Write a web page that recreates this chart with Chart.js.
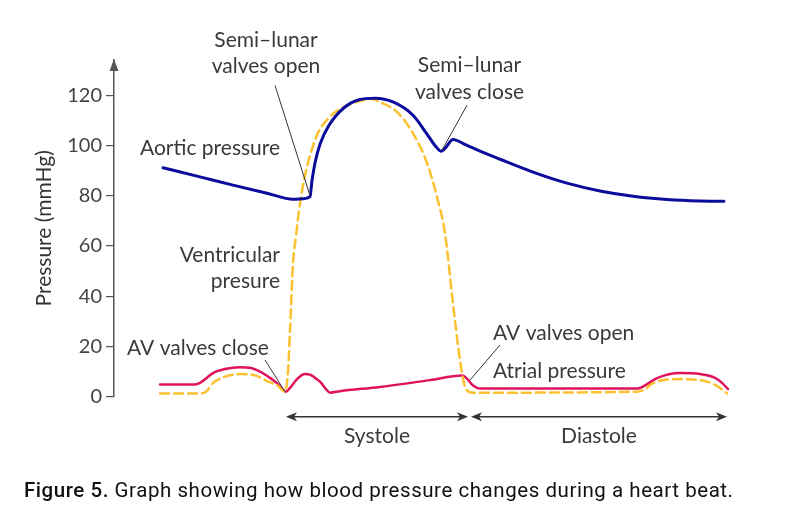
<!DOCTYPE html>
<html>
<head>
<meta charset="utf-8">
<script src="https://cdn.jsdelivr.net/npm/chart.js@4"></script>
<style>
  body { margin: 0; background: #fff; }
  #wrap { position: relative; width: 790px; height: 513px; }
  #caption {
    position: absolute; left: 24px; top: 480px;
    font-family: Roboto, sans-serif; font-size: 20.5px; line-height: 20px;
    letter-spacing: 0.55px;
    color: #111; white-space: nowrap;
  }
  #caption b { font-weight: 500; }
</style>
</head>
<body>
<div id="wrap">
  <canvas id="myChart" width="790" height="513"></canvas>
  <div id="caption"><b>Figure 5.</b> Graph showing how blood pressure changes during a heart beat.</div>
</div>
<script>
// time axis is arbitrary units (one cardiac cycle), pressure in mmHg
var aorticT = [9.8, 17.2, 23.8, 30.6, 35.8, 37.8, 39.2, 39.6, 40.2, 41.2, 43, 46, 49, 52.2, 55.8, 59.8, 62.5, 64.2, 65.4, 66.2, 67.8, 70.4, 73.2, 77.2, 83.8, 90.6, 97.2, 103.8, 110.6, 117.2, 122];
var aortic  = [91.1, 87.5, 84.2, 81, 78.6, 78.8, 79.6, 86, 93, 100.5, 108, 115, 118.2, 118.8, 117.3, 112, 104.8, 100, 97.7, 98.8, 102.4, 100.2, 97.7, 94.5, 89.4, 85, 81.9, 79.8, 78.5, 77.9, 77.8];

var ventT = [9.2, 17.2, 18.4, 19.8, 22.2, 25.2, 28.2, 30.8, 32.6, 34.2, 34.8, 35.2, 35.8, 36.4, 37.2, 38.2, 39.2, 40.8, 43.2, 45.2, 49.8, 51.6, 53.2, 56.6, 59.8, 62.6, 64.6, 66.2, 67.8, 69.2, 70.2, 71.8, 104.6, 106.2, 107.8, 113.2, 118.6, 120.8, 122.6];
var ventricular = [1.3, 1.3, 2, 5.4, 8, 9, 8.5, 6, 4.6, 2, 10, 26.5, 53, 64, 77, 88, 96, 105, 111.5, 114.5, 118, 118.5, 117.3, 113.3, 104.8, 93, 79.5, 65, 37, 14.6, 4, 1.6, 2, 3, 5.4, 7, 6, 4, 1.3];

var atrialT = [9.2, 16.2, 17.2, 19.8, 22.2, 25.2, 27.2, 29.2, 31.2, 32.6, 34.4, 35.2, 36.6, 38.2, 39.2, 40.2, 41.2, 42.4, 43.2, 45.2, 53.2, 63.2, 69.6, 70.4, 71.8, 73.2, 104.8, 106.2, 108.6, 113.2, 117.2, 120.2, 121.6, 122.8];
var atrial  = [4.9, 4.9, 5.5, 9.4, 11, 11.7, 11.5, 10, 7.5, 5.4, 2, 3.5, 7, 9, 8.8, 7.5, 6, 3, 1.6, 2.2, 3.9, 6.6, 8.4, 7.6, 4.5, 3.3, 3.3, 4.5, 7.4, 9.4, 9, 7.5, 5.5, 3];

var yTicks = [0, 20, 40, 60, 80, 100, 120];

// phases shown under the plot (start, end, label)
var phaseStart = [34.4, 71.4];
var phaseEnd   = [70.8, 122.6];
var phaseName  = ['Systole', 'Diastole'];

function pts(t, v) {
  var out = [];
  for (var i = 0; i < t.length; i++) out.push({x: t[i], y: v[i]});
  return out;
}

var FONT = '21px Lato, sans-serif';
var TEXT = '#3a3a3a';

// labels and pointer lines, in data coordinates
var notes = [
  {text: 'Semi\u2013lunar', x: 30.4, y: 139.2, align: 'center'},
  {text: 'valves open', x: 30.4, y: 128.7, align: 'center'},
  {text: 'Semi\u2013lunar', x: 71.1, y: 129.1, align: 'center'},
  {text: 'valves close', x: 71.1, y: 118.6, align: 'center'},
  {text: 'Aortic pressure', x: 5.2, y: 96.1, align: 'left'},
  {text: 'Ventricular', x: 33.2, y: 53.6, align: 'right'},
  {text: 'presure', x: 33.2, y: 43.1, align: 'right'},
  {text: 'AV valves close', x: 2.6, y: 16.6, align: 'left'},
  {text: 'AV valves open', x: 75.8, y: 22.5, align: 'left'},
  {text: 'Atrial pressure', x: 75.8, y: 7.3, align: 'left'}
];
var pointers = [
  [32.2, 123.9, 39.2, 80.0],
  [70.6, 116, 65.6, 98.1],
  [30.2, 14.6, 34.2, 2],
  [77.2, 20.6, 71.2, 6.6]
];

var extras = {
  id: 'extras',
  afterDraw: function (chart) {
    var ctx = chart.ctx, xs = chart.scales.x, ys = chart.scales.y;
    ctx.save();
    // arrow head on the y axis
    var ax = chart.chartArea.left;
    ctx.fillStyle = '#555';
    ctx.beginPath();
    ctx.moveTo(ax, chart.chartArea.top - 1);
    ctx.lineTo(ax - 4.5, chart.chartArea.top + 11);
    ctx.lineTo(ax + 4.5, chart.chartArea.top + 11);
    ctx.closePath();
    ctx.fill();

    ctx.strokeStyle = '#333';
    ctx.lineWidth = 1;
    pointers.forEach(function (p) {
      ctx.beginPath();
      ctx.moveTo(xs.getPixelForValue(p[0]), ys.getPixelForValue(p[1]));
      ctx.lineTo(xs.getPixelForValue(p[2]), ys.getPixelForValue(p[3]));
      ctx.stroke();
    });

    ctx.font = FONT;
    ctx.fillStyle = TEXT;
    ctx.textBaseline = 'alphabetic';
    notes.forEach(function (n) {
      ctx.textAlign = n.align;
      ctx.fillText(n.text, xs.getPixelForValue(n.x), ys.getPixelForValue(n.y));
    });

    // systole / diastole double arrows
    var ay = ys.getPixelForValue(-8);
    ctx.strokeStyle = '#333';
    ctx.fillStyle = '#333';
    ctx.lineWidth = 1.5;
    for (var i = 0; i < phaseName.length; i++) {
      var x1 = xs.getPixelForValue(phaseStart[i]), x2 = xs.getPixelForValue(phaseEnd[i]);
      ctx.beginPath();
      ctx.moveTo(x1 + 4, ay); ctx.lineTo(x2 - 4, ay);
      ctx.stroke();
      ctx.beginPath();
      ctx.moveTo(x1, ay); ctx.lineTo(x1 + 11, ay - 4.5); ctx.lineTo(x1 + 8, ay); ctx.lineTo(x1 + 11, ay + 4.5);
      ctx.closePath(); ctx.fill();
      ctx.beginPath();
      ctx.moveTo(x2, ay); ctx.lineTo(x2 - 11, ay - 4.5); ctx.lineTo(x2 - 8, ay); ctx.lineTo(x2 - 11, ay + 4.5);
      ctx.closePath(); ctx.fill();
      ctx.fillStyle = TEXT;
      ctx.textAlign = 'center';
      ctx.fillText(phaseName[i], (x1 + x2) / 2, ys.getPixelForValue(-18.3));
      ctx.fillStyle = '#333';
    }
    ctx.restore();
  }
};

var ctx = document.getElementById('myChart').getContext('2d');
var chart = new Chart(ctx, {
  type: 'line',
  data: {
    datasets: [
      {
        label: 'Aortic pressure',
        data: pts(aorticT, aortic),
        borderColor: '#0c0c9c',
        borderWidth: 3
      },
      {
        label: 'Ventricular pressure',
        data: pts(ventT, ventricular),
        borderColor: '#fcc131',
        borderWidth: 2.5,
        borderDash: [9, 5]
      },
      {
        label: 'Atrial pressure',
        data: pts(atrialT, atrial),
        borderColor: '#e0125e',
        borderWidth: 2.5
      }
    ]
  },
  options: {
    responsive: false,
    animation: false,
    events: [],
    layout: { padding: { top: 60, right: 26, bottom: 116.3, left: 0 } },
    elements: {
      point: { radius: 0 },
      line: { cubicInterpolationMode: 'monotone', fill: false, borderCapStyle: 'round', borderJoinStyle: 'round' }
    },
    datasets: { line: { clip: false } },
    plugins: { legend: { display: false }, tooltip: { enabled: false } },
    scales: {
      x: { type: 'linear', min: 0, max: 130, display: false },
      y: {
        min: 0, max: 134,
        afterFit: function (s) { s.width = 114; },
        afterBuildTicks: function (s) { s.ticks = yTicks.map(function (v) { return {value: v}; }); },
        ticks: { color: '#444', font: { family: 'Lato', size: 20 }, padding: 4 },
        grid: { drawOnChartArea: false, drawTicks: true, tickLength: 8, color: '#555', lineWidth: 1.2 },
        border: { display: true, color: '#555', width: 1.5 },
        title: {
          display: true, text: 'Pressure (mmHg)', color: '#333',
          font: { family: 'Lato', size: 21 }, padding: { top: 31.4, bottom: 0 }
        }
      }
    }
  },
  plugins: [extras]
});
</script>
</body>
</html>
